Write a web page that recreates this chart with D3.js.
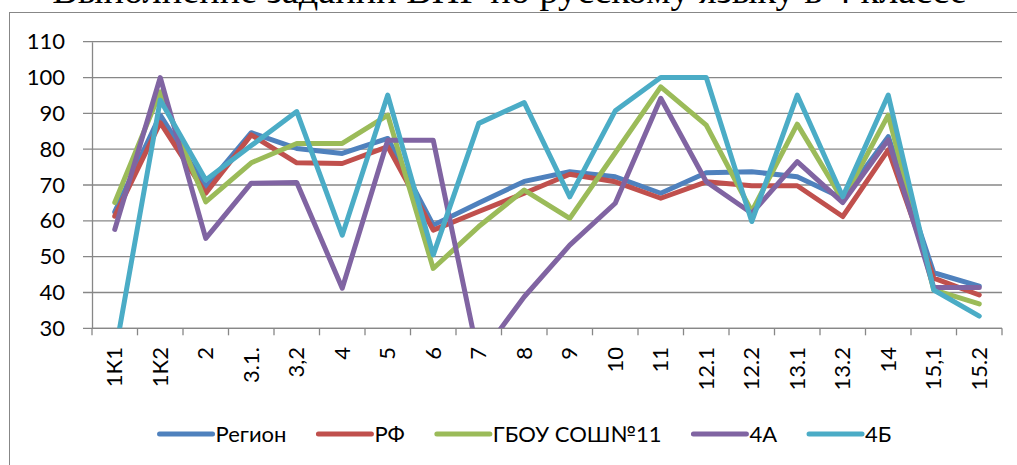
<!DOCTYPE html>
<html>
<head>
<meta charset="utf-8">
<script src="https://cdn.jsdelivr.net/npm/d3@7"></script>
<style>
  body { margin: 0; background: #fff; }
  svg { display: block; }
  .axis text { font-family: Lato, "Liberation Sans", sans-serif; }
</style>
</head>
<body>
<div id="chart"></div>
<script>
// data
let categories = ["1К1", "1К2", "2", "3.1.", "3,2", "4", "5", "6", "7", "8", "9", "10", "11", "12.1", "12.2", "13.1", "13.2", "14", "15,1", "15.2"];
let seriesNames = ["Регион", "РФ", "ГБОУ СОШ№11", "4А", "4Б"];
let seriesColors = ["#4F81BD", "#C0504D", "#9BBB59", "#8064A2", "#4BACC6"];

let region = [62.5, 89.5, 69.5, 84.6, 80.2, 78.8, 83, 58.8, 65, 71, 73.7, 72.3, 67.7, 73.4, 73.7, 72.3, 66.3, 83.5, 45.5, 41.8];
let rf     = [61.3, 87.4, 67.7, 84, 76.2, 76, 80.7, 57.4, 62.6, 67.7, 73, 70.9, 66.3, 70.9, 69.8, 69.8, 61.2, 79.8, 44, 39.3];
let school = [65.1, 96, 65.3, 76.2, 81.6, 81.6, 89.5, 46.7, 58.4, 68.6, 60.7, 79, 97.4, 86.7, 62.6, 87, 65.8, 89.5, 40.7, 36.8];
let class4a = [57.6, 100, 55.1, 70.5, 70.7, 41.2, 82.5, 82.5, 21.6, 38.8, 53.2, 64.9, 94.2, 70.9, 62.1, 76.5, 65.1, 82.6, 41.4, 41.4];
let class4b = [22.4, 93.7, 71.4, 81, 90.5, 56, 95.1, 50.5, 87.2, 93, 66.7, 90.7, 100, 100, 59.8, 95.1, 66.7, 95.1, 40.7, 33.4];

let yTicks = [30, 40, 50, 60, 70, 80, 90, 100, 110];

let width = 1017, height = 465;
let plotLeft = 92, plotRight = 1002, plotTop = 41.7, plotBottom = 328.3;
let gridColor = "#878787";

let svg = d3.select("#chart").append("svg")
    .attr("width", width)
    .attr("height", height);

// chart border (right and bottom fall outside the picture)
svg.append("rect")
    .attr("x", 9.5).attr("y", 12.5)
    .attr("width", 1030).attr("height", 480)
    .attr("fill", "none")
    .attr("stroke", gridColor)
    .attr("stroke-width", 1);

// title, cut at the top
let title = svg.append("text")
    .attr("x", 509.5)
    .attr("y", 3)
    .style("text-anchor", "middle")
    .style("font-family", "'Liberation Serif', 'Times New Roman', serif")
    .style("font-size", "32px")
    .text("Выполнение заданий ВПР по русскому языку в 4 классе");
let tw = title.node().getComputedTextLength();
title.style("font-size", (32 * 915 / tw) + "px");

// scales
let x = d3.scaleBand()
    .domain(categories)
    .range([plotLeft, plotRight])
    .padding(0);

let y = d3.scaleLinear()
    .domain([30, 110])
    .range([plotBottom, plotTop]);

// gridlines
svg.append("g")
    .selectAll("line")
    .data(yTicks)
    .enter().append("line")
    .attr("x1", plotLeft - 9)
    .attr("x2", plotRight)
    .attr("y1", d => y(d))
    .attr("y2", d => y(d))
    .attr("stroke", gridColor)
    .attr("stroke-width", 1.3);

// y axis
let yAxis = svg.append("g")
    .attr("class", "axis")
    .attr("transform", "translate(" + plotLeft + ",0)")
    .call(d3.axisLeft(y).tickValues(yTicks).tickSize(0).tickPadding(27));
yAxis.select(".domain").attr("stroke", gridColor).attr("stroke-width", 1.3);
yAxis.selectAll("text")
    .style("font-size", "22px")
    .attr("fill", "#000");

// x axis line and ticks at category borders
let xAxis = svg.append("g").attr("class", "axis");
xAxis.append("line")
    .attr("x1", plotLeft).attr("x2", plotRight)
    .attr("y1", plotBottom).attr("y2", plotBottom)
    .attr("stroke", gridColor).attr("stroke-width", 1.3);
let borders = categories.map(c => x(c)).concat([plotRight]);
xAxis.selectAll(".tickmark")
    .data(borders)
    .enter().append("line")
    .attr("class", "tickmark")
    .attr("x1", d => d).attr("x2", d => d)
    .attr("y1", plotBottom).attr("y2", plotBottom + 7)
    .attr("stroke", gridColor).attr("stroke-width", 1.3);
xAxis.selectAll(".lbl")
    .data(categories)
    .enter().append("text")
    .attr("class", "lbl")
    .attr("transform", d => "translate(" + (x(d) + x.bandwidth() / 2) + "," + 347 + ") rotate(-90)")
    .attr("dy", "0.35em")
    .style("text-anchor", "end")
    .style("font-size", "22px")
    .attr("fill", "#000")
    .text(d => d);

// lines
let allSeries = [region, rf, school, class4a, class4b];

let valueline = d3.line()
    .x((d, i) => x(categories[i]) + x.bandwidth() / 2)
    .y(d => y(d));

svg.append("clipPath")
    .attr("id", "plotclip")
    .append("rect")
    .attr("x", plotLeft).attr("y", 0)
    .attr("width", plotRight - plotLeft + 10)
    .attr("height", plotBottom);

svg.append("g")
    .attr("clip-path", "url(#plotclip)")
    .selectAll("path")
    .data(allSeries)
    .enter().append("path")
    .attr("d", d => valueline(d))
    .attr("fill", "none")
    .attr("stroke", (d, i) => seriesColors[i])
    .attr("stroke-width", 5)
    .attr("stroke-linejoin", "round")
    .attr("stroke-linecap", "round");

// legend
let legend = svg.append("g").attr("class", "axis");
let lx = 0;
seriesNames.forEach(function(name, i) {
    let g = legend.append("g").attr("transform", "translate(" + lx + ",0)");
    g.append("line")
        .attr("x1", 2).attr("x2", 55)
        .attr("y1", 0).attr("y2", 0)
        .attr("stroke", seriesColors[i])
        .attr("stroke-width", 5)
        .attr("stroke-linecap", "round");
    let t = g.append("text")
        .attr("x", 58)
        .attr("y", 0)
        .attr("dy", "0.35em")
        .style("font-size", "22px")
        .attr("fill", "#000")
        .text(name);
    lx += 58 + t.node().getComputedTextLength() + 30;
});
lx -= 30;
legend.attr("transform", "translate(" + (524.5 - lx / 2) + ",434)");
</script>
</body>
</html>
